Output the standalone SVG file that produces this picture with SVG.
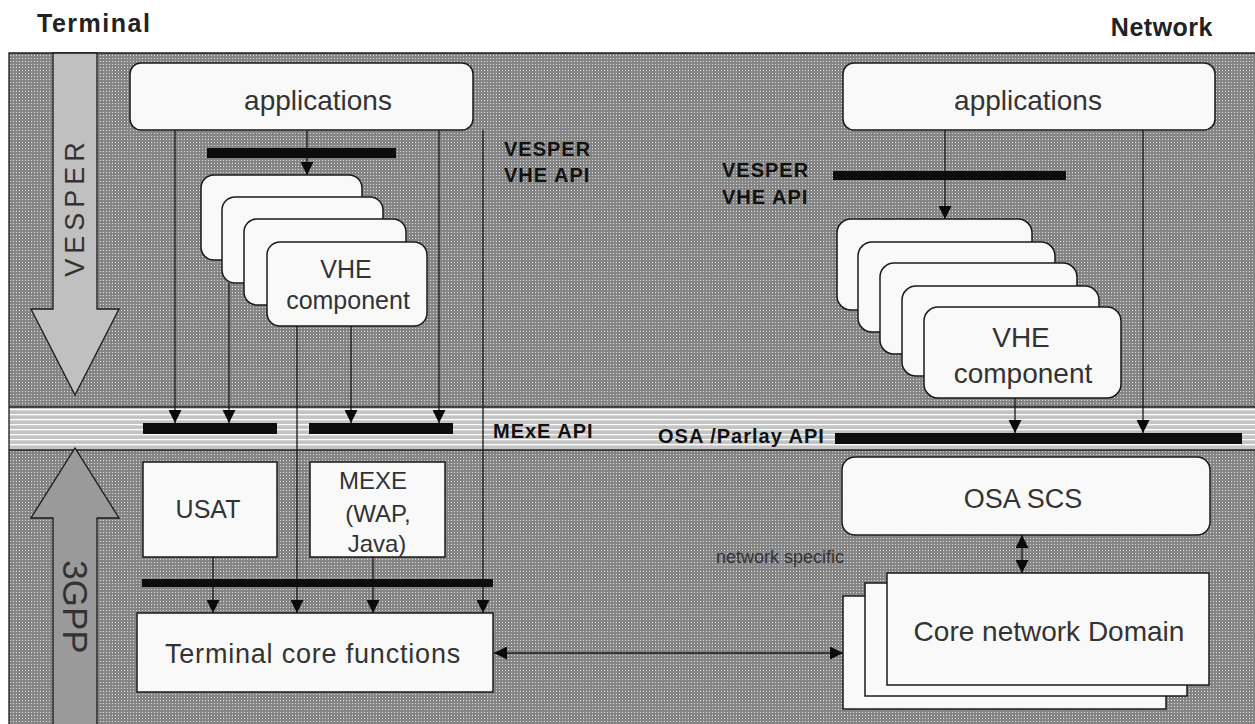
<svg xmlns="http://www.w3.org/2000/svg" width="1255" height="724" viewBox="0 0 1255 724">
<defs>
<pattern id="dots" width="3" height="3" patternUnits="userSpaceOnUse"><rect width="3" height="3" fill="#858585"/><rect x="1" y="1" width="1" height="1" fill="#dcdcdc"/></pattern>
<pattern id="stripes" width="5" height="5" patternUnits="userSpaceOnUse" y="407"><rect width="5" height="5" fill="#c4c4c4"/><rect y="2" width="5" height="1.3" fill="#ffffff"/></pattern>
<marker id="ah" viewBox="0 0 10 10" markerWidth="13" markerHeight="13" refX="10" refY="5" orient="auto-start-reverse" markerUnits="userSpaceOnUse"><path d="M0,0 L10,5 L0,10 z" fill="#0a0a0a"/></marker>
</defs>
<style>
.box{fill:#f9f9f9;stroke:#1a1a1a;stroke-width:1.5}
.t{font-family:"Liberation Sans",Arial,sans-serif;fill:#333;text-anchor:middle}
.lab{font-family:"Liberation Sans",Arial,sans-serif;font-weight:bold;fill:#111;letter-spacing:1px}
.hd{font-family:"Liberation Sans",Arial,sans-serif;font-weight:bold;fill:#222;font-size:25px}
.ln{stroke:#1a1a1a;stroke-width:1.3;fill:none}
.ar{marker-end:url(#ah)}
.da{marker-start:url(#ah);marker-end:url(#ah)}
.bar{fill:#0d0d0d}
</style>
<rect width="1255" height="724" fill="#ffffff"/>
<rect x="9" y="53" width="1246" height="671" fill="url(#dots)"/>
<rect x="9" y="407" width="1246" height="43" fill="url(#stripes)"/>
<path d="M9,724 V53 H1255" class="ln" stroke-width="1.5"/>
<line x1="9" y1="407" x2="1255" y2="407" class="ln" stroke-width="1.5"/>
<line x1="9" y1="450" x2="1255" y2="450" class="ln" stroke-width="1.5"/>

<text x="37" y="32" class="hd" letter-spacing="1.5">Terminal</text>
<text x="1213" y="36" class="hd" text-anchor="end" letter-spacing="0.5">Network</text>

<g id="vesper-arrow">
<path d="M53,53 H97 V309 H119 L75,395 L31,309 H53 Z" fill="#c0c0c0" stroke="#1a1a1a" stroke-width="1.3"/>
<text transform="translate(84,207) rotate(-90)" class="t" font-size="27" letter-spacing="5" fill="#222">VESPER</text>
</g>
<g id="gpp-arrow">
<path d="M53,724 V518 H31 L75,448 L119,518 H97 V724" fill="#9a9a9a" stroke="#1a1a1a" stroke-width="1.3"/>
<text transform="translate(63,607) rotate(90)" class="t" font-size="35" fill="#222">3GPP</text>
</g>

<g id="connectors">
<line x1="175" y1="130" x2="175" y2="423" class="ln ar"/>
<line x1="307" y1="130" x2="307" y2="175" class="ln ar"/>
<line x1="439" y1="130" x2="439" y2="423" class="ln ar"/>
<line x1="483" y1="130" x2="483" y2="613" class="ln ar"/>
<line x1="229" y1="283" x2="229" y2="423" class="ln ar"/>
<line x1="297" y1="326" x2="297" y2="613" class="ln ar"/>
<line x1="351" y1="326" x2="351" y2="423" class="ln ar"/>
<line x1="213" y1="557" x2="213" y2="613" class="ln ar"/>
<line x1="373" y1="557" x2="373" y2="613" class="ln ar"/>
<line x1="494" y1="653" x2="843" y2="653" class="ln da"/>
<line x1="945" y1="130" x2="945" y2="219" class="ln ar"/>
<line x1="1143" y1="130" x2="1143" y2="433" class="ln ar"/>
<line x1="1015" y1="398" x2="1015" y2="433" class="ln ar"/>
<line x1="1022" y1="535" x2="1022" y2="573" class="ln da"/>
</g>

<g id="api-bars">
<rect x="207" y="148" width="189" height="10" class="bar"/>
<rect x="833" y="171" width="233" height="9" class="bar"/>
<rect x="143" y="423" width="134" height="11" class="bar"/>
<rect x="309" y="423" width="144" height="11" class="bar"/>
<rect x="835" y="433" width="407" height="11" class="bar"/>
<rect x="142" y="579" width="351" height="8" class="bar"/>
</g>

<g id="labels">
<text x="504" y="156" class="lab" font-size="20">VESPER</text>
<text x="504" y="182" class="lab" font-size="20">VHE API</text>
<text x="722" y="177" class="lab" font-size="20">VESPER</text>
<text x="722" y="204" class="lab" font-size="20">VHE API</text>
<text x="493" y="438" class="lab" font-size="20">MExE API</text>
<text x="658" y="443" class="lab" font-size="20" letter-spacing="1.2">OSA /Parlay API</text>
<text x="780" y="563" class="t" font-size="18" fill="#555">network specific</text>
</g>

<g id="apps-terminal">
<rect x="130" y="63" width="343" height="67" rx="11" class="box"/>
<text x="318" y="110" class="t" font-size="28">applications</text>
</g>
<g id="apps-network">
<rect x="843" y="63" width="372" height="67" rx="11" class="box"/>
<text x="1028" y="110" class="t" font-size="28">applications</text>
</g>

<g id="vhe-terminal">
<rect x="201" y="175" width="161" height="85" rx="13" class="box"/>
<rect x="222" y="197" width="161" height="86" rx="13" class="box"/>
<rect x="244" y="219" width="162" height="86" rx="13" class="box"/>
<rect x="267" y="242" width="160" height="84" rx="13" class="box"/>
<text x="346" y="278" class="t" font-size="25">VHE</text>
<text x="348" y="309" class="t" font-size="25">component</text>
</g>

<g id="vhe-network">
<rect x="837" y="219" width="195" height="91" rx="14" class="box"/>
<rect x="858" y="242" width="197" height="90" rx="14" class="box"/>
<rect x="880" y="263" width="197" height="91" rx="14" class="box"/>
<rect x="902" y="286" width="197" height="90" rx="14" class="box"/>
<rect x="924" y="307" width="197" height="91" rx="14" class="box"/>
<text x="1021" y="347" class="t" font-size="28">VHE</text>
<text x="1023" y="383" class="t" font-size="28">component</text>
</g>

<g id="usat">
<rect x="143" y="462" width="134" height="95" class="box"/>
<text x="208" y="518" class="t" font-size="25">USAT</text>
</g>
<g id="mexe">
<rect x="310" y="462" width="135" height="95" class="box"/>
<text x="373" y="489" class="t" font-size="24">MEXE</text>
<text x="378" y="522" class="t" font-size="24">(WAP,</text>
<text x="377" y="552" class="t" font-size="24">Java)</text>
</g>

<g id="osa-scs">
<rect x="842" y="457" width="368" height="78" rx="13" class="box"/>
<text x="1023" y="508" class="t" font-size="27">OSA SCS</text>
</g>

<g id="terminal-core">
<rect x="137" y="613" width="356" height="79" class="box"/>
<text x="313" y="663" class="t" font-size="27" letter-spacing="0.8">Terminal core functions</text>
</g>

<g id="core-network">
<rect x="843" y="596" width="323" height="113" class="box"/>
<rect x="865" y="583" width="322" height="113" class="box"/>
<rect x="887" y="573" width="322" height="112" class="box"/>
<text x="1049" y="641" class="t" font-size="28">Core network Domain</text>
</g>
</svg>
